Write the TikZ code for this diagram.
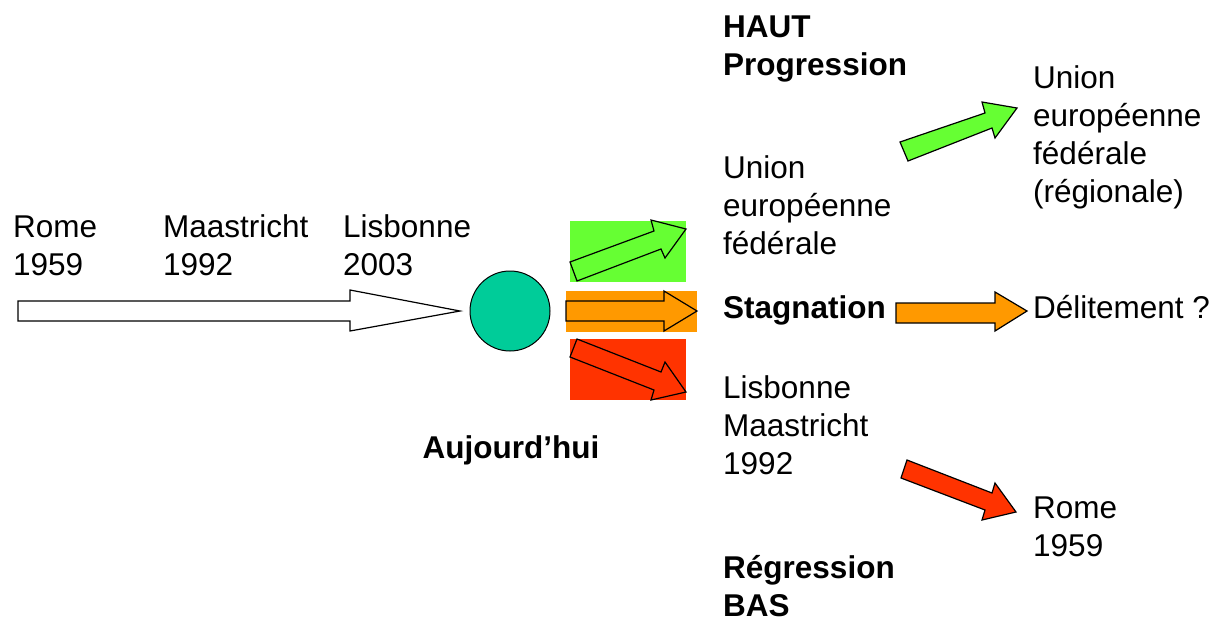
\documentclass[tikz,border=0pt]{standalone}
\usepackage{fontspec}
\setmainfont{Liberation Sans}
\definecolor{cgreen}{HTML}{66FF33}
\definecolor{corange}{HTML}{FF9900}
\definecolor{cred}{HTML}{FF3300}
\definecolor{cteal}{HTML}{00CC99}
\begin{document}
\begin{tikzpicture}[x=1pt,y=-1pt,
  lbl/.style={anchor=base west,inner sep=0pt,align=left,font=\fontsize{31.5}{38}\selectfont},
  blbl/.style={lbl,font=\fontsize{31.5}{38}\selectfont\bfseries},
  arr/.style={draw=black,line width=1.2pt,line join=miter}]
\useasboundingbox (0,0) rectangle (1214,619);
% main white arrow
\draw[arr,fill=white] (18,301) -- (350,301) -- (350,290) -- (460,311) -- (350,331) -- (350,321) -- (18,321) -- cycle;
\node[circle,draw=black,line width=1pt,fill=cteal,minimum size=80pt,inner sep=0pt] (today) at (510,311) {};
% coloured boxes
\fill[cgreen] (570,221) rectangle (686,282);
\fill[corange] (566,291) rectangle (697,332);
\fill[cred] (570,339) rectangle (686,400);
\draw[arr] (570,262) -- (654,231) -- (651,220) -- (686,229) -- (665,258) -- (661,249) -- (577,281) -- cycle;
\draw[arr] (566,301) -- (664,301) -- (664,291) -- (697,311) -- (664,331) -- (664,321) -- (566,321) -- cycle;
\draw[arr] (577,339) -- (661,372) -- (665,362) -- (686,392) -- (651,400) -- (654,390) -- (570,357) -- cycle;
% right big arrows
\draw[arr,fill=cgreen] (900,142) -- (985,113) -- (982,102) -- (1017,108) -- (995,138) -- (992,128) -- (908,161) -- cycle;
\draw[arr,fill=corange] (896,303) -- (995,303) -- (995,292) -- (1027,311) -- (995,331) -- (995,323) -- (896,323) -- cycle;
\draw[arr,fill=cred] (907,460) -- (992,493) -- (995,483) -- (1016,512) -- (982,520) -- (985,510) -- (901,478) -- cycle;
% texts (anchor = baseline of last line)
\node[lbl] (t1) at (13,275) {Rome\\1959};
\node[lbl] (t2) at (163,275) {Maastricht\\1992};
\node[lbl] (t3) at (343,275) {Lisbonne\\2003};
\node[blbl,anchor=base] (t4) at (511,458) {Aujourd’hui};
\node[blbl] (t5) at (723,75) {HAUT\\Progression};
\node[lbl] (t6) at (723,254) {Union\\européenne\\fédérale};
\node[blbl] (t7) at (723,318) {Stagnation};
\node[lbl] (t8) at (723,474) {Lisbonne\\Maastricht\\1992};
\node[blbl] (t9) at (723,616) {Régression\\BAS};
\node[lbl] (t10) at (1033,202) {Union\\européenne\\fédérale\\(régionale)};
\node[lbl] (t11) at (1033,318) {Délitement ?};
\node[lbl] (t12) at (1033,556) {Rome\\1959};
\end{tikzpicture}
\end{document}
